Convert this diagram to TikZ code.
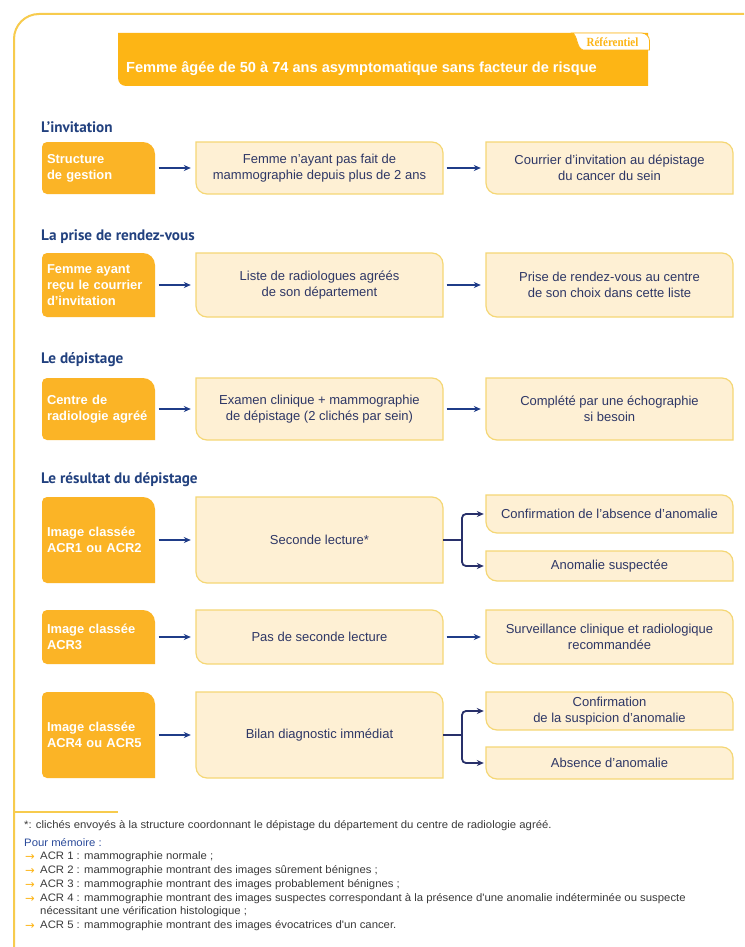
\documentclass[tikz,border=0pt]{standalone}
\usepackage{fontspec}
\setmainfont{Liberation Sans}
\newfontfamily\headfont{PT Sans}
\newfontfamily\tabfont[FakeStretch=0.88]{Liberation Serif}
\newfontfamily\footfont[FakeStretch=1.05]{Liberation Sans}
\newfontfamily\arrowfont{DejaVu Sans}
\usetikzlibrary{arrows.meta,calc}
\definecolor{frameC}{HTML}{F7CB4D}
\definecolor{banC}{HTML}{FDB515}
\definecolor{oboxC}{HTML}{FBB426}
\definecolor{lfillC}{HTML}{FEF0D4}
\definecolor{lbordC}{HTML}{F5D775}
\definecolor{txtC}{HTML}{2E3766}
\definecolor{headC}{HTML}{22417F}
\definecolor{arrC}{HTML}{1F3C88}
\definecolor{branchC}{HTML}{28306A}
\definecolor{footC}{HTML}{3A3A3A}
\definecolor{pmC}{HTML}{2A4A9A}
\tikzset{
  otext/.style={inner xsep=5pt, inner ysep=0pt, text width=103pt, align=left, text=white,
     font=\fontsize{12.9}{16}\selectfont\bfseries},
  ltext/.style={inner sep=0pt, align=center, text=txtC, font=\fontsize{13}{16}\selectfont},
  lborder/.style={fill=lfillC, draw=lbordC, line width=1.2pt},
  heading/.style={anchor=west, inner sep=0pt, text=headC, font=\headfont\fontsize{15.2}{17}\selectfont\bfseries},
  arr/.style={draw=arrC, line width=1.8pt, -{Stealth[length=7pt,width=6pt]}, shorten <=3.5pt, shorten >=5pt},
  brline/.style={draw=branchC, line width=1.8pt},
  brarr/.style={draw=branchC, line width=1.8pt, rounded corners=4pt, -{Stealth[length=7pt,width=6pt]}, shorten >=2pt},
  foot/.style={anchor=west, inner sep=0pt, text=footC, font=\footfont\fontsize{10.8}{12}\selectfont},
  bullet/.style={anchor=west, inner sep=0pt, text=banC, font=\arrowfont\fontsize{11.5}{12}\selectfont}
}
\newcommand\obox[6]{%
  \fill[oboxC] (#2,{#3+5}) arc[start angle=180,end angle=270,radius=5] -- ({#4-12},#3)
     arc[start angle=-90,end angle=0,radius=12] -- (#4,#5) -- ({#2+5},#5)
     arc[start angle=90,end angle=180,radius=5] -- cycle;
  \node[otext, minimum width={#4-#2}, minimum height={#5-#3}] (#1) at ({(#2+#4)/2},{(#3+#5)/2}) {#6};
}
\newcommand\lbox[6]{%
  \path[lborder] (#2,#3) -- ({#4-11},#3) arc[start angle=-90,end angle=0,radius=11]
     -- (#4,#5) -- ({#2+11},#5) arc[start angle=90,end angle=180,radius=11] -- cycle;
  \node[ltext, minimum width={#4-#2}, minimum height={#5-#3}] (#1) at ({(#2+#4)/2},{(#3+#5)/2}) {#6};
}
\newcommand\acritem[3]{%
  \node[bullet] (#1b) at (25,#2) {→};
  \node[foot] (#1) at (40,#2) {#3};
}
\begin{document}
\begin{tikzpicture}[x=1pt,y=-1pt]
\useasboundingbox (0,0) rectangle (744,947);
\fill[white] (0,0) rectangle (744,947);
% outer frame
\draw[frameC, line width=2pt] (14,947) -- (14,39) arc[start angle=180,end angle=270,radius=25] -- (744,14);
% banner
\fill[banC] (118,33) -- (648,33) -- (648,86) -- (126,86) arc[start angle=90,end angle=180,radius=8] -- cycle;
\filldraw[fill=white, draw=banC, line width=0.8pt] (649.5,50) -- (649.5,41) arc[start angle=0,end angle=-90,radius=8]
   -- (572,33) .. controls (578,35) and (576,48) .. (583,50) -- cycle;
\node[inner sep=0pt, text=banC, font=\tabfont\fontsize{12.5}{13}\selectfont\bfseries] (tab) at (612.5,42) {Référentiel};
\node[anchor=west, inner sep=0pt, text=white, font=\fontsize{14.6}{16}\selectfont\bfseries] (title) at (126,69) {Femme âgée de 50 à 74 ans asymptomatique sans facteur de risque};

% headings
\node[heading] (h1) at (41,127) {L’invitation};
\node[heading] (h2) at (41,237) {La prise de rendez-vous};
\node[heading] (h3) at (41,360) {Le dépistage};
\node[heading] (h4) at (41,480) {Le résultat du dépistage};

% row 1
\obox{o1}{42}{142}{155}{194}{Structure\\de gestion}
\lbox{m1}{196}{142}{443}{194}{Femme n'ayant pas fait de\\mammographie depuis plus de 2 ans}
\lbox{r1}{486}{142}{733}{194}{Courrier d'invitation au dépistage\\du cancer du sein}
\draw[arr] (o1) -- (m1);
\draw[arr] (m1) -- (r1);

% row 2
\obox{o2}{42}{253}{155}{317}{Femme ayant\\reçu le courrier\\d'invitation}
\lbox{m2}{196}{253}{443}{317}{Liste de radiologues agréés\\de son département}
\lbox{r2}{486}{253}{733}{317}{Prise de rendez-vous au centre\\de son choix dans cette liste}
\draw[arr] (o2) -- (m2);
\draw[arr] (m2) -- (r2);

% row 3
\obox{o3}{42}{378}{155}{440}{Centre de\\radiologie agréé}
\lbox{m3}{196}{378}{443}{440}{Examen clinique + mammographie\\de dépistage (2 clichés par sein)}
\lbox{r3}{486}{378}{733}{440}{Complété par une échographie\\si besoin}
\draw[arr] (o3) -- (m3);
\draw[arr] (m3) -- (r3);

% row 4
\obox{o4}{42}{497}{155}{583}{Image classée\\ACR1 ou ACR2}
\lbox{m4}{196}{497}{443}{583}{Seconde lecture*}
\lbox{r4a}{486}{495}{733}{533}{Confirmation de l'absence d'anomalie}
\lbox{r4b}{486}{551}{733}{581}{Anomalie suspectée}
\draw[arr] (o4) -- (m4);
\coordinate (j4) at (462,540);
\draw[brline] (m4.east) -- (j4);
\draw[brarr] (j4) |- (r4a.west);
\draw[brarr] (j4) |- (r4b.west);

% row 5
\obox{o5}{42}{610}{155}{664}{Image classée\\ACR3}
\lbox{m5}{196}{610}{443}{664}{Pas de seconde lecture}
\lbox{r5}{486}{610}{733}{664}{Surveillance clinique et radiologique\\recommandée}
\draw[arr] (o5) -- (m5);
\draw[arr] (m5) -- (r5);

% row 6
\obox{o6}{42}{692}{155}{778}{Image classée\\ACR4 ou ACR5}
\lbox{m6}{196}{692}{443}{778}{Bilan diagnostic immédiat}
\lbox{r6a}{486}{692}{733}{730}{Confirmation\\de la suspicion d'anomalie}
\lbox{r6b}{486}{747}{733}{779}{Absence d'anomalie}
\draw[arr] (o6) -- (m6);
\coordinate (j6) at (462,735);
\draw[brline] (m6.east) -- (j6);
\draw[brarr] (j6) |- (r6a.west);
\draw[brarr] (j6) |- (r6b.west);

% footer
\draw[frameC, line width=2pt] (14,812) -- (118,812);
\node[foot] (fn) at (24,826) {*: clichés envoyés à la structure coordonnant le dépistage du département du centre de radiologie agréé.};
\node[foot, text=pmC] (pm) at (24,843) {Pour mémoire :};
\acritem{a1}{857}{ACR 1 : mammographie normale ;}
\acritem{a2}{871}{ACR 2 : mammographie montrant des images sûrement bénignes ;}
\acritem{a3}{885}{ACR 3 : mammographie montrant des images probablement bénignes ;}
\acritem{a4}{899}{ACR 4 : mammographie montrant des images suspectes correspondant à la présence d'une anomalie indéterminée ou suspecte}
\node[foot] (a4c) at (40,912) {nécessitant une vérification histologique ;};
\acritem{a5}{926}{ACR 5 : mammographie montrant des images évocatrices d'un cancer.}
\end{tikzpicture}
\end{document}
